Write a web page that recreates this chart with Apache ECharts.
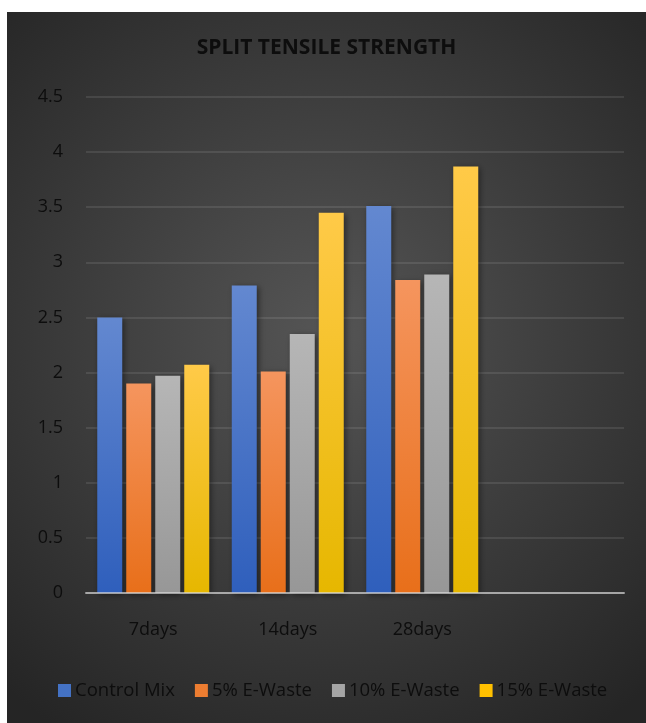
<!DOCTYPE html>
<html>
<head>
<meta charset="utf-8">
<script src="https://cdn.jsdelivr.net/npm/echarts@6/dist/echarts.min.js"></script>
<style>
  html, body { margin: 0; padding: 0; background: #ffffff; }
  #chart { position: absolute; left: 7px; top: 12px; width: 639px; height: 711px; }
</style>
</head>
<body>
<div id="chart"></div>
<script>
// Split tensile strength (MPa) by curing age and e-waste replacement level
const categories = ['7days', '14days', '28days', ''];
const controlMix = [2.5, 2.79, 3.51];
const eWaste5 = [1.9, 2.01, 2.84];
const eWaste10 = [1.97, 2.35, 2.89];
const eWaste15 = [2.07, 3.45, 3.87];
const yTicks = [0, 0.5, 1, 1.5, 2, 2.5, 3, 3.5, 4, 4.5];

const FONT = 'Open Sans';
const TEXT = '#0d0d0d';

function vgrad(top, bottom) {
  return new echarts.graphic.LinearGradient(0, 0, 0, 1, [
    { offset: 0, color: top },
    { offset: 1, color: bottom }
  ]);
}

function barSeries(name, data, top, bottom) {
  return {
    name: name,
    type: 'bar',
    data: data,
    barWidth: 25,
    barGap: '16%',
    itemStyle: {
      color: vgrad(top, bottom),
      borderRadius: 0,
      shadowBlur: 6,
      shadowOffsetX: 2,
      shadowOffsetY: 2,
      shadowColor: 'rgba(0,0,0,0.45)'
    },
    emphasis: { disabled: true }
  };
}

const chart = echarts.init(document.getElementById('chart'), null, { renderer: 'canvas' });

chart.setOption({
  animation: false,
  backgroundColor: new echarts.graphic.RadialGradient(0.5, 0.45, 0.75, [
    { offset: 0, color: '#555555' },
    { offset: 1, color: '#252525' }
  ]),
  color: ['#4472C4', '#ED7D31', '#A5A5A5', '#FFC000'],
  title: {
    text: 'SPLIT TENSILE STRENGTH',
    left: 'center',
    top: 26,
    padding: 0,
    textStyle: { fontFamily: FONT, fontSize: 21, fontWeight: 'bold', color: TEXT }
  },
  legend: {
    top: 669,
    left: 51,
    padding: 0,
    icon: 'rect',
    itemWidth: 13,
    itemHeight: 13,
    itemGap: 20,
    textStyle: { fontFamily: FONT, fontSize: 18.5, color: TEXT, padding: [0, 0, 0, -1] },
    data: [
      { name: 'Control Mix', itemStyle: { color: '#4472C4' } },
      { name: '5% E-Waste', itemStyle: { color: '#ED7D31' } },
      { name: '10% E-Waste', itemStyle: { color: '#A5A5A5' } },
      { name: '15% E-Waste', itemStyle: { color: '#FFC000' } }
    ]
  },
  grid: { left: 79, right: 22, top: 85, bottom: 130, containLabel: false },
  xAxis: {
    type: 'category',
    data: categories,
    z: 5,
    axisLine: { lineStyle: { color: 'rgba(220,220,220,0.65)', width: 2 } },
    axisTick: { show: false },
    axisLabel: { fontFamily: FONT, fontSize: 18, color: TEXT, margin: 28 },
    splitLine: { show: false }
  },
  yAxis: {
    type: 'value',
    min: yTicks[0],
    max: yTicks[yTicks.length - 1],
    interval: 0.5,
    axisLine: { show: false },
    axisTick: { show: false },
    axisLabel: { fontFamily: FONT, fontSize: 18, color: TEXT, margin: 23 },
    splitLine: { lineStyle: { color: 'rgba(255,255,255,0.13)', width: 1.5 } }
  },
  series: [
    barSeries('Control Mix', controlMix, '#6388d0', '#2f5fbc'),
    barSeries('5% E-Waste', eWaste5, '#f5955e', '#e86f1a'),
    barSeries('10% E-Waste', eWaste10, '#b6b6b6', '#979797'),
    barSeries('15% E-Waste', eWaste15, '#ffca48', '#e6b700')
  ]
});
</script>
</body>
</html>
